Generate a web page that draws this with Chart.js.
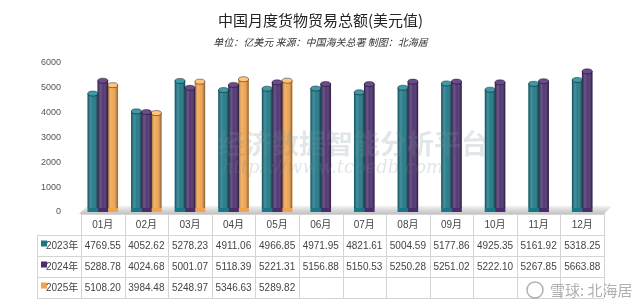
<!DOCTYPE html>
<html>
<head>
<meta charset="utf-8">
<script src="https://cdn.jsdelivr.net/npm/chart.js@4/dist/chart.umd.min.js"></script>
<style>
html, body { margin: 0; padding: 0; background: #fff; }
#wrap { width: 644px; height: 308px; }
</style>
</head>
<body>
<div id="wrap"><canvas id="canvas" width="644" height="308"></canvas></div>
<script>
// 月份 / 数据 (亿美元)
var months = ['01月','02月','03月','04月','05月','06月','07月','08月','09月','10月','11月','12月'];
var seriesNames = ['2023年','2024年','2025年'];
var data2023 = [4769.55, 4052.62, 5278.23, 4911.06, 4966.85, 4971.95, 4821.61, 5004.59, 5177.86, 4925.35, 5161.92, 5318.25];
var data2024 = [5288.78, 4024.68, 5001.07, 5118.39, 5221.31, 5156.88, 5150.53, 5250.28, 5251.02, 5222.10, 5267.85, 5663.88];
var data2025 = [5108.20, 3984.48, 5248.97, 5346.63, 5289.82, null, null, null, null, null, null, null];
var yTicks = [0, 1000, 2000, 3000, 4000, 5000, 6000];

var colors = ['#1b7686', '#4a2d6c', '#f0a24c'];
var capColors = ['#3d9aa9', '#6a4b8e', '#ffc57e'];

// 3D 圆柱效果 + 底座
var cylinderPlugin = {
	id: 'cylinder',
	beforeDatasetsDraw: function(chart){
		var ctx = chart.ctx;
		var a = chart.chartArea;
		ctx.save();
		var g = ctx.createLinearGradient(0, a.bottom - 6, 0, a.bottom + 3);
		g.addColorStop(0, '#f2f2f2');
		g.addColorStop(0.5, '#d6d6d6');
		g.addColorStop(1, '#bdbdbd');
		ctx.fillStyle = g;
		ctx.beginPath();
		ctx.moveTo(a.left + 6, a.bottom - 6);
		ctx.lineTo(a.right + 8, a.bottom - 6);
		ctx.lineTo(a.right, a.bottom + 2);
		ctx.lineTo(a.left - 2, a.bottom + 2);
		ctx.closePath();
		ctx.fill();
		ctx.restore();
	},
	afterDatasetsDraw: function(chart){
		var ctx = chart.ctx;
		ctx.save();
		chart.data.datasets.forEach(function(ds, di){
			var meta = chart.getDatasetMeta(di);
			meta.data.forEach(function(bar, i){
				if (ds.data[i] == null) return;
				var w = bar.width, x0 = bar.x - w / 2, top = bar.y, bottom = bar.base;
				var g = ctx.createLinearGradient(x0, 0, x0 + w, 0);
				g.addColorStop(0, 'rgba(0,0,0,0.35)');
				g.addColorStop(0.3, 'rgba(255,255,255,0.18)');
				g.addColorStop(0.55, 'rgba(255,255,255,0.05)');
				g.addColorStop(1, 'rgba(0,0,0,0.45)');
				ctx.fillStyle = g;
				ctx.fillRect(x0, top, w, bottom - top - 4);
				ctx.beginPath();
				ctx.ellipse(bar.x, top, w / 2, 2.5, 0, 0, Math.PI * 2);
				ctx.fillStyle = capColors[di];
				ctx.fill();
				ctx.lineWidth = 0.8;
				ctx.strokeStyle = 'rgba(0,0,0,0.55)';
				ctx.stroke();
			});
		});
		ctx.restore();
	}
};

// 下方数据表 + 水印
var tablePlugin = {
	id: 'dataTable',
	afterDraw: function(chart){
		var ctx = chart.ctx;
		var a = chart.chartArea;
		var xs = chart.scales.x;
		var colW = (a.right - a.left) / months.length;
		var labelLeft = 37;
		var top = 214, headH = 21, rowH = 21;
		var rows = [data2023, data2024, data2025];
		ctx.save();

		// 水印
		ctx.fillStyle = 'rgba(120,140,150,0.22)';
		ctx.font = 'bold 27px "Noto Sans CJK SC"';
		ctx.textAlign = 'left';
		ctx.textBaseline = 'middle';
		ctx.fillText('经济数据智能分析平台', 218, 144);
		ctx.font = 'italic 18px "DejaVu Serif"';
		ctx.fillText('https://www.tcpedb.com', 222, 168);

		ctx.strokeStyle = '#d4d4d4';
		ctx.lineWidth = 1;
		// 表头
		ctx.beginPath();
		ctx.moveTo(a.left, top + 0.5);
		ctx.lineTo(a.right, top + 0.5);
		var bottom = top + headH + rowH * rows.length;
		for (var r = 0; r <= rows.length; r++) {
			var yy = Math.round(top + headH + rowH * r) + 0.5;
			ctx.moveTo(labelLeft, yy);
			ctx.lineTo(a.right, yy);
		}
		for (var c = 0; c <= months.length; c++) {
			var xx = Math.round(a.left + colW * c) + 0.5;
			ctx.moveTo(xx, top);
			ctx.lineTo(xx, bottom);
		}
		ctx.moveTo(labelLeft + 0.5, top + headH);
		ctx.lineTo(labelLeft + 0.5, bottom);
		ctx.stroke();

		ctx.fillStyle = '#444';
		ctx.font = '10px "Liberation Sans", "Noto Sans CJK SC"';
		ctx.textAlign = 'center';
		ctx.textBaseline = 'middle';
		months.forEach(function(m, i){
			ctx.fillText(m, xs.getPixelForValue(i), top + headH / 2 + 1);
		});
		rows.forEach(function(vals, r){
			var cy = top + headH + rowH * r + rowH / 2 + 1;
			ctx.fillStyle = colors[r];
			ctx.fillRect(labelLeft + 4, cy - 6, 6, 6);
			ctx.fillStyle = '#444';
			ctx.textAlign = 'left';
			ctx.fillText(seriesNames[r], labelLeft + 9, cy);
			ctx.textAlign = 'center';
			vals.forEach(function(v, i){
				if (v == null) return;
				ctx.fillText(v.toFixed(2), xs.getPixelForValue(i), cy);
			});
		});

		// 雪球 水印
		ctx.fillStyle = 'rgba(150,150,150,0.75)';
		ctx.font = '15px "Noto Sans CJK SC"';
		ctx.textAlign = 'left';
		ctx.fillText('雪球: 北海居', 550, 290);
		ctx.strokeStyle = 'rgba(150,150,150,0.75)';
		ctx.lineWidth = 1.5;
		ctx.beginPath();
		ctx.arc(535, 290, 8, 0, Math.PI * 2);
		ctx.stroke();
		ctx.restore();
	}
};

var ctx = document.getElementById('canvas').getContext('2d');
window.myBar = new Chart(ctx, {
	type: 'bar',
	data: {
		labels: months,
		datasets: [
			{ label: seriesNames[0], data: data2023, backgroundColor: colors[0] },
			{ label: seriesNames[1], data: data2024, backgroundColor: colors[1] },
			{ label: seriesNames[2], data: data2025, backgroundColor: colors[2] }
		]
	},
	options: {
		responsive: false,
		animation: false,
		skipNull: true,
		barThickness: 10,
		categoryPercentage: 0.72,
		layout: { padding: { top: 0, left: 37, right: 40, bottom: 96 } },
		plugins: {
			legend: { display: false },
			tooltip: { enabled: false },
			title: {
				display: true,
				text: '中国月度货物贸易总额(美元值)',
				color: '#222',
				font: { size: 15, weight: 'normal', family: '"Noto Sans CJK SC"' },
				padding: { top: 11, bottom: 5 }
			},
			subtitle: {
				display: true,
				text: '单位：亿美元 来源：中国海关总署 制图：北海居',
				color: '#333',
				font: { size: 10, style: 'italic', family: '"Noto Sans CJK SC"' },
				padding: { top: 2, bottom: 15 }
			}
		},
		scales: {
			x: { display: false },
			y: {
				min: 0,
				max: 6000,
				afterFit: function(s){ s.width = 44; },
				afterBuildTicks: function(s){ s.ticks = yTicks.map(function(v){ return { value: v }; }); },
				grid: { display: false },
				border: { display: false },
				ticks: {
					color: '#555',
					padding: 12,
					font: { size: 9, family: '"Liberation Sans"' },
					callback: function(v){ return String(v); }
				}
			}
		}
	},
	plugins: [cylinderPlugin, tablePlugin]
});
</script>
</body>
</html>
